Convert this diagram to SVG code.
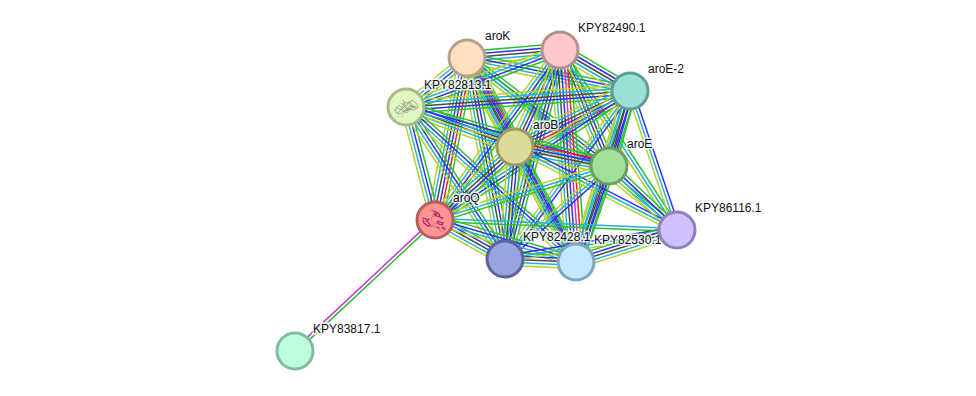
<svg xmlns="http://www.w3.org/2000/svg" width="976" height="396" viewBox="0 0 976 396">
<style>
  .e line { fill: none; stroke-width: 1.5; vector-effect: non-scaling-stroke; }
  .g { stroke: #2fc02f; } .b { stroke: #3030f0; } .d { stroke: #4a4a4a; }
  .c { stroke: #22b4d8; } .y { stroke: #b6d030; } .r { stroke: #f02020; } .m { stroke: #d030e0; }
  .n { stroke-width: 3; }
  text { font-family: "Liberation Sans", Arial, sans-serif; font-size: 12px; fill: #111; stroke: #fff; stroke-width: 3px; stroke-opacity: .8; paint-order: stroke; }
  .st { fill: none; stroke-linecap: round; }
</style>
<defs>
  <!-- Evidence bundles: unit-length lines, one colour per evidence channel -->
  <g id="e5" class="e"><line class="g" x2="1" y1="-6.4" y2="-6.4"/><line class="b" x2="1" y1="-3.2" y2="-3.2"/><line class="d" x2="1"/><line class="c" x2="1" y1="3.2" y2="3.2"/><line class="y" x2="1" y1="6.4" y2="6.4"/></g>
  <g id="e6" class="e"><line class="g" x2="1" y1="-8" y2="-8"/><line class="r" x2="1" y1="-4.8" y2="-4.8"/><line class="b" x2="1" y1="-1.6" y2="-1.6"/><line class="d" x2="1" y1="1.6" y2="1.6"/><line class="c" x2="1" y1="4.8" y2="4.8"/><line class="y" x2="1" y1="8" y2="8"/></g>
  <g id="e7" class="e"><line class="g" x2="1" y1="-9.6" y2="-9.6"/><line class="r" x2="1" y1="-6.4" y2="-6.4"/><line class="m" x2="1" y1="-3.2" y2="-3.2"/><line class="b" x2="1"/><line class="d" x2="1" y1="3.2" y2="3.2"/><line class="c" x2="1" y1="6.4" y2="6.4"/><line class="y" x2="1" y1="9.6" y2="9.6"/></g>
  <g id="e4" class="e"><line class="g" x2="1" y1="-4.8" y2="-4.8"/><line class="b" x2="1" y1="-1.6" y2="-1.6"/><line class="c" x2="1" y1="1.6" y2="1.6"/><line class="y" x2="1" y1="4.8" y2="4.8"/></g>
  <g id="e3" class="e"><line class="b" x2="1" y1="-3.2" y2="-3.2"/><line class="c" x2="1"/><line class="y" x2="1" y1="3.2" y2="3.2"/></g>
  <g id="e3g" class="e"><line class="g" x2="1" y1="-3.2" y2="-3.2"/><line class="c" x2="1"/><line class="y" x2="1" y1="3.2" y2="3.2"/></g>
  <g id="e2" class="e"><line class="c" x2="1" y1="-1.6" y2="-1.6"/><line class="g" x2="1" y1="1.6" y2="1.6"/></g>
  <g id="e2m" class="e"><line class="m" x2="1" y1="-1.6" y2="-1.6"/><line class="g" x2="1" y1="1.6" y2="1.6"/></g>
</defs>
<rect width="976" height="396" fill="#fff"/>
<g id="connectors">
  <use href="#e5" transform="matrix(93 -8 .086 .997 467 58)"/>
  <use href="#e4" transform="matrix(163 33 -.198 .98 467 58)"/>
  <use href="#e4" transform="matrix(-61 49 -.627 -.78 467 58)"/>
  <use href="#e6" transform="matrix(48 89 -.88 .475 467 58)"/>
  <use href="#e4" transform="matrix(142 108 -.605 .796 467 58)"/>
  <use href="#e6" transform="matrix(-32 162 -.981 -.194 467 58)"/>
  <use href="#e5" transform="matrix(38 201 -.982 .186 467 58)"/>
  <use href="#e5" transform="matrix(109 204 -.882 .471 467 58)"/>
  <use href="#e3g" transform="matrix(210 172 -.634 .773 467 58)"/>
  <use href="#e5" transform="matrix(70 41 -.505 .863 560 50)"/>
  <use href="#e4" transform="matrix(-154 57 -.347 -.938 560 50)"/>
  <use href="#e5" transform="matrix(-45 97 -.907 -.421 560 50)"/>
  <use href="#e5" transform="matrix(49 116 -.921 .389 560 50)"/>
  <use href="#e4" transform="matrix(-125 170 -.806 -.592 560 50)"/>
  <use href="#e5" transform="matrix(-55 209 -.967 -.255 560 50)"/>
  <use href="#e7" transform="matrix(16 212 -.997 .075 560 50)"/>
  <use href="#e3g" transform="matrix(117 180 -.838 .545 560 50)"/>
  <use href="#e5" transform="matrix(-224 16 -.071 -.997 630 91)"/>
  <use href="#e6" transform="matrix(-115 56 -.438 -.899 630 91)"/>
  <use href="#e5" transform="matrix(-21 75 -.963 -.27 630 91)"/>
  <use href="#e4" transform="matrix(-195 129 -.552 -.834 630 91)"/>
  <use href="#e3" transform="matrix(-125 168 -.802 -.597 630 91)"/>
  <use href="#e5" transform="matrix(-54 171 -.954 -.301 630 91)"/>
  <use href="#e3" transform="matrix(47 139 -.947 .32 630 91)"/>
  <use href="#e5" transform="matrix(109 40 -.345 .939 406 107)"/>
  <use href="#e4" transform="matrix(203 59 -.279 .96 406 107)"/>
  <use href="#e4" transform="matrix(29 113 -.968 .249 406 107)"/>
  <use href="#e4" transform="matrix(99 152 -.838 .546 406 107)"/>
  <use href="#e4" transform="matrix(170 155 -.674 .739 406 107)"/>
  <use href="#e6" transform="matrix(94 19 -.198 .98 515 147)"/>
  <use href="#e5" transform="matrix(-80 73 -.674 -.739 515 147)"/>
  <use href="#e5" transform="matrix(-10 112 -.996 -.089 515 147)"/>
  <use href="#e4" transform="matrix(61 115 -.883 .469 515 147)"/>
  <use href="#e3" transform="matrix(162 83 -.456 .89 515 147)"/>
  <use href="#e3g" transform="matrix(-174 54 -.296 -.955 609 166)"/>
  <use href="#e3" transform="matrix(-104 93 -.667 -.746 609 166)"/>
  <use href="#e5" transform="matrix(-33 96 -.946 -.325 609 166)"/>
  <use href="#e4" transform="matrix(68 64 -.685 .728 609 166)"/>
  <use href="#e5" transform="matrix(70 39 -.487 .874 435 220)"/>
  <use href="#e4" transform="matrix(141 42 -.286 .959 435 220)"/>
  <use href="#e2" transform="matrix(242 10 -.041 .999 435 220)"/>
  <use href="#e5" transform="matrix(71 3 -.042 .999 505 259)"/>
  <use href="#e3" transform="matrix(172 -29 .166 .986 505 259)"/>
  <use href="#e5" transform="matrix(101 -32 .302 .954 576 262)"/>
  <use href="#e2m" transform="matrix(-140 131 .73 .683 435 220)"/>
</g>
<g id="aroK"><circle class="n" cx="467" cy="58" r="18" fill="#ffdfc0" stroke="#b8a088"/><text x="485" y="40">aroK</text></g>
<g id="KPY82490.1"><circle class="n" cx="560" cy="50" r="18" fill="#fbc9c9" stroke="#b88f8f"/><text x="578" y="32">KPY82490.1</text></g>
<g id="aroE-2"><circle class="n" cx="630" cy="91" r="18" fill="#99e0d6" stroke="#5f9d95"/><text x="648" y="73">aroE-2</text></g>
<g id="KPY82813.1"><circle class="n" cx="406" cy="107" r="18" fill="#dff8c0" stroke="#a5bc88"/>
  <!-- ribbon sketch of the fold, grey on green -->
  <path class="st" stroke="#8a8a80" stroke-width=".7" stroke-dasharray=".9 .7" d="M395 110l4-5 3 3 3-6 4 2 3-4 4 3 2 4-3 3-5-1-3 4-4-2-3 3-4-1zM398 113l5-6 4 4 4-5 5 1M401 103l5 4 3-6 5 6-7 3-5 4M397 108l8 3 5-6 6 3M403 100l3 8 4 2M398 116l1 1M402 116l1 1"/>
  <text x="424" y="89">KPY82813.1</text></g>
<g id="aroB"><circle class="n" cx="515" cy="147" r="18" fill="#dddb9a" stroke="#9d9b5e"/><text x="533" y="129">aroB</text></g>
<g id="aroE"><circle class="n" cx="609" cy="166" r="18" fill="#a0e098" stroke="#6a9e65"/><text x="627" y="148">aroE</text></g>
<g id="aroQ"><circle class="n" cx="435" cy="220" r="18" fill="#ff9494" stroke="#b85c5c"/>
  <!-- ribbon sketch of the fold, crimson on red -->
  <path class="st" stroke="#b02060" stroke-width="1.3" d="M423 218l3 1 2 3 2 3-2 1-4-3-1-3M426 221l3-2M433 211l3 1 3 2 1 3-3-1-3-2M436 213l-1 3M438 221l2 1 3 1-1 2-3-1-2-2M441 218l2 0M442 228l2 0 1 1M437 227l2 1"/>
  <path class="st" stroke="#b84070" stroke-width=".5" d="M430 211c3-3 5 0 4 3s-4 4-2 7 4 3 7 3 6 2 5 6-5 1-5-2M425 224c3 3 7 3 9 1M431 227c2-3 4-1 4 1"/>
  <text x="453" y="202">aroQ</text></g>
<g id="KPY82530.1"><circle class="n" cx="576" cy="262" r="18" fill="#c0e8ff" stroke="#7ea7bb"/><text x="594" y="244">KPY82530.1</text></g>
<g id="KPY82428.1"><circle class="n" cx="505" cy="259" r="18" fill="#98a4e0" stroke="#5a659f"/><text x="523" y="241">KPY82428.1</text></g>
<g id="KPY86116.1"><circle class="n" cx="677" cy="230" r="18" fill="#d0c0fb" stroke="#9180bb"/><text x="695" y="212">KPY86116.1</text></g>
<g id="KPY83817.1"><circle class="n" cx="295" cy="351" r="18" fill="#c0ffdc" stroke="#80bda0"/><text x="313" y="333">KPY83817.1</text></g>
</svg>
